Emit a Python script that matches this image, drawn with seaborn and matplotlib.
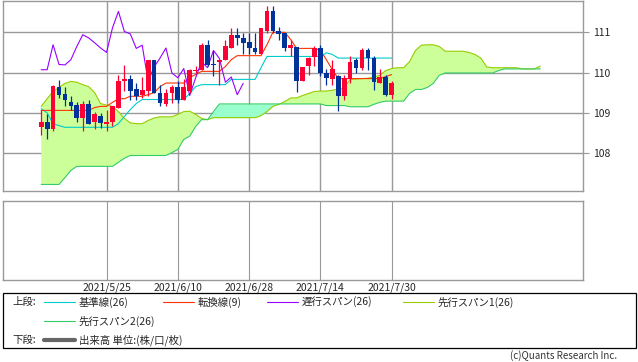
import matplotlib
matplotlib.use("Agg")
import matplotlib.pyplot as plt
import seaborn as sns
import numpy as np
from matplotlib.lines import Line2D
from matplotlib.patches import Rectangle

sns.set_style("white")
plt.rcParams['font.family'] = ['Noto Sans CJK JP', 'DejaVu Sans']
plt.rcParams['axes.unicode_minus'] = False

# 日足 (2021/5/10 〜 2021/7/30)
opens = [108.64, 108.78, 108.59, 109.65, 109.46, 109.28, 109.20, 108.86, 109.23, 108.78,
         108.93, 108.72, 108.77, 109.12, 109.78, 109.83, 109.58, 109.45, 109.53, 110.30,
         109.50, 109.23, 109.48, 109.63, 109.31, 109.53, 110.05, 110.06, 110.69, 110.21,
         110.26, 110.32, 110.61, 110.94, 110.86, 110.75, 110.61, 110.45, 111.02, 111.52,
         111.03, 110.99, 110.60, 110.64, 109.78, 110.16, 110.39, 110.61, 109.99, 109.84,
         109.91, 109.41, 109.84, 110.32, 110.12, 110.57, 110.35, 109.74, 109.89, 109.45]
highs = [109.06, 108.96, 109.68, 109.81, 109.65, 109.41, 109.28, 109.29, 109.31, 109.01,
         109.00, 109.08, 109.16, 109.93, 110.20, 109.95, 109.74, 109.89, 110.30, 110.30,
         109.70, 109.58, 109.70, 109.78, 109.83, 110.10, 110.16, 110.74, 110.82, 110.53,
         110.32, 110.82, 111.11, 111.11, 110.99, 110.99, 110.99, 111.11, 111.66, 111.66,
         111.14, 110.99, 110.82, 110.64, 110.14, 110.38, 110.65, 110.69, 110.10, 110.32,
         109.93, 109.95, 110.40, 110.36, 110.61, 110.60, 110.40, 110.09, 109.95, 109.80]
lows = [108.44, 108.34, 108.56, 109.38, 109.16, 109.06, 108.78, 108.56, 108.73, 108.59,
        108.62, 108.54, 108.68, 109.12, 109.53, 109.33, 109.33, 109.36, 109.41, 109.48,
        109.16, 109.18, 109.25, 109.25, 109.31, 109.50, 109.98, 110.06, 110.16, 109.91,
        109.70, 110.32, 110.61, 110.69, 110.45, 110.45, 110.45, 110.45, 110.99, 110.99,
        110.82, 110.53, 110.40, 109.51, 109.78, 109.95, 110.16, 109.91, 109.70, 109.70,
        109.04, 109.31, 109.74, 109.99, 110.07, 110.07, 109.56, 109.74, 109.43, 109.35]
closes = [108.78, 108.59, 109.66, 109.44, 109.33, 109.18, 108.86, 109.23, 108.73, 108.96,
          108.75, 108.78, 109.16, 109.80, 109.83, 109.53, 109.43, 109.56, 110.30, 109.48,
          109.25, 109.50, 109.63, 109.33, 109.65, 110.07, 110.07, 110.69, 110.20, 110.19,
          110.32, 110.65, 110.94, 110.86, 110.74, 110.61, 110.50, 111.11, 111.52, 111.02,
          110.96, 110.60, 110.68, 109.78, 110.14, 110.36, 110.61, 109.99, 109.87, 110.10,
          109.43, 109.87, 110.27, 110.12, 110.55, 110.35, 109.76, 109.89, 109.45, 109.73]

# 転換線(9)
tenkan = [109.06, 109.06, 109.06, 109.06, 109.06, 109.06, 109.06, 109.06, 109.06, 109.13,
          109.16, 109.16, 109.26, 109.35, 109.35, 109.41, 109.41, 109.41, 109.45, 109.50,
          109.65, 109.74, 109.74, 109.74, 109.74, 109.88, 109.95, 110.03, 110.03, 110.03,
          110.03, 110.15, 110.32, 110.42, 110.42, 110.42, 110.42, 110.42, 110.69, 111.00,
          111.00, 111.00, 110.82, 110.60, 110.60, 110.60, 110.60, 110.55, 110.32, 110.07,
          109.85, 109.85, 109.85, 109.85, 109.85, 109.85, 109.85, 109.85, 109.90, 109.95]
# 基準線(26)
kijun = [109.10, 109.00, 108.73, 108.68, 108.64, 108.64, 108.64, 108.64, 108.64, 108.64,
         108.64, 108.64, 108.64, 108.73, 108.91, 109.08, 109.23, 109.33, 109.33, 109.33,
         109.33, 109.33, 109.33, 109.33, 109.33, 109.48, 109.65, 109.70, 109.70, 109.70,
         109.70, 109.70, 109.83, 109.83, 109.83, 109.83, 109.83, 110.12, 110.40, 110.40,
         110.40, 110.40, 110.40, 110.40, 110.40, 110.40, 110.40, 110.40, 110.49, 110.45,
         110.36, 110.36, 110.36, 110.36, 110.36, 110.36, 110.36, 110.36, 110.36, 110.36]
# 先行スパン1(26)
span1 = [109.16, 109.35, 109.53, 109.63, 109.73, 109.78, 109.76, 109.70, 109.65, 109.50,
         109.23, 109.19, 109.16, 109.03, 108.86, 108.75, 108.73, 108.73, 108.81, 108.87,
         108.90, 108.90, 108.90, 108.96, 109.03, 109.04, 108.96, 108.86, 108.83, 108.88,
         108.88, 108.88, 108.88, 108.88, 108.88, 108.88, 108.88, 108.93, 109.03, 109.16,
         109.21, 109.28, 109.37, 109.37, 109.43, 109.48, 109.53, 109.54, 109.54, 109.56,
         109.59, 109.62, 109.83, 109.84, 109.85, 109.86, 109.89, 109.93, 110.05, 110.10,
         110.12, 110.12, 110.27, 110.55, 110.68, 110.69, 110.69, 110.65, 110.53, 110.53,
         110.53, 110.53, 110.50, 110.45, 110.36, 110.14, 110.12, 110.12, 110.12, 110.12,
         110.12, 110.09, 110.09, 110.09, 110.16]
# 先行スパン2(26)
span2 = [107.22, 107.22, 107.22, 107.22, 107.39, 107.57, 107.67, 107.67, 107.67, 107.67,
         107.67, 107.67, 107.67, 107.77, 107.87, 107.94, 107.94, 107.94, 107.94, 107.94,
         107.94, 107.94, 108.01, 108.09, 108.34, 108.42, 108.66, 108.83, 108.83, 109.03,
         109.22, 109.22, 109.22, 109.22, 109.22, 109.22, 109.22, 109.22, 109.22, 109.22,
         109.22, 109.22, 109.22, 109.22, 109.22, 109.22, 109.22, 109.22, 109.18, 109.18,
         109.18, 109.18, 109.15, 109.15, 109.15, 109.15, 109.21, 109.26, 109.29, 109.29,
         109.29, 109.29, 109.48, 109.58, 109.58, 109.63, 109.73, 109.93, 109.99, 109.99,
         109.99, 109.99, 109.99, 109.99, 109.99, 109.99, 109.99, 110.05, 110.09, 110.09,
         110.09, 110.09, 110.09, 110.09, 110.09]
# 遅行スパン(26): 終値を25本前に
chikou = closes[25:]

date_pos = [11, 23, 35, 47, 59]
date_labels = ['2021/5/25', '2021/6/10', '2021/6/28', '2021/7/14', '2021/7/30']
price_ticks = [108, 109, 110, 111]

W, H = 638, 362
fig = plt.figure(figsize=(W / 100, H / 100), dpi=100)
ax1 = fig.add_axes([3 / W, 1 - 190.5 / H, 580 / W, 190 / H])
ax2 = fig.add_axes([3 / W, 1 - 280 / H, 580 / W, 79 / H])

grid_c = '#999999'
lw = 0.8
x60 = np.arange(len(closes))
x85 = np.arange(len(span1))
s1 = np.array(span1)
s2 = np.array(span2)

# 雲
ax1.fill_between(x85, s1, s2, where=s1 >= s2, interpolate=True, color='#ccff99', lw=0, zorder=1)
ax1.fill_between(x85, s1, s2, where=s1 < s2, interpolate=True, color='#99ffcc', lw=0, zorder=1)
sns.lineplot(x=x85, y=s1, ax=ax1, color='#99cc00', lw=lw, zorder=2)
sns.lineplot(x=x85, y=s2, ax=ax1, color='#33cc66', lw=lw, zorder=2)
sns.lineplot(x=x60, y=kijun, ax=ax1, color='#00cccc', lw=lw, zorder=3)
sns.lineplot(x=x60, y=tenkan, ax=ax1, color='#ff3300', lw=lw, zorder=3)
sns.lineplot(x=np.arange(len(chikou)), y=chikou, ax=ax1, color='#9900ff', lw=lw, zorder=3)

# ローソク足
o = np.array(opens)
c = np.array(closes)
up = c >= o
cols = np.where(up, '#ff0033', '#003399')
ax1.vlines(x60, lows, highs, colors=cols, lw=0.9, zorder=4)
ax1.bar(x60, np.maximum(np.abs(c - o), 0.02), bottom=np.minimum(o, c), width=0.8,
        color=cols, lw=0, zorder=5)

ax1.set_xlim(-6.43, 91.2)
ax1.set_ylim(107.07, 111.79)
ax1.yaxis.tick_right()
ax1.set_yticks(price_ticks)
ax1.set_yticklabels([str(t) for t in price_ticks])
ax1.set_xticks(date_pos)
ax1.set_xticklabels([])
ax1.tick_params(axis='x', length=0)
ax1.tick_params(axis='y', length=4, color=grid_c, labelsize=7.5, pad=3)
ax1.grid(True, color=grid_c, lw=1.0)
ax1.set_axisbelow(True)
ax1.set_xlabel('')
ax1.set_ylabel('')

ax2.set_xlim(-6.43, 91.2)
ax2.set_ylim(0, 1)
ax2.set_xticks(date_pos)
ax2.set_xticklabels(date_labels)
ax2.set_yticks([])
ax2.tick_params(axis='x', length=0, labelsize=7.5, pad=2)
ax2.grid(True, axis='x', color=grid_c, lw=0.8)

for ax in (ax1, ax2):
    for sp in ax.spines.values():
        sp.set_color(grid_c)
        sp.set_linewidth(1.0)


def fx(x):
    return x / W


def fy(y):
    return 1 - y / H


# 凡例
fig.add_artist(Rectangle((fx(3), fy(348)), 633 / W, 55 / H, transform=fig.transFigure,
                         fill=False, edgecolor='black', lw=0.9))
fs = 7.5
fig.text(fx(12), fy(302), '上段:', fontsize=fs, va='center')
entries = [(44, 302, '#00cccc', '基準線(26)'),
           (163, 302, '#ff3300', '転換線(9)'),
           (267, 302, '#9900ff', '遅行スパン(26)'),
           (403, 302, '#99cc00', '先行スパン1(26)'),
           (44, 321, '#33cc66', '先行スパン2(26)')]
for x0, y0, col, lab in entries:
    fig.add_artist(Line2D([fx(x0), fx(x0 + 31)], [fy(y0), fy(y0)], transform=fig.transFigure,
                          color=col, lw=lw))
    fig.text(fx(x0 + 35), fy(y0), lab, fontsize=fs, va='center')
fig.text(fx(12), fy(340), '下段:', fontsize=fs, va='center')
fig.add_artist(Line2D([fx(44), fx(75)], [fy(340), fy(340)], transform=fig.transFigure,
                      color='#666666', lw=3))
fig.text(fx(79), fy(340), '出来高 単位:(株/口/枚)', fontsize=fs, va='center')

fig.text(fx(617), fy(356), '(c)Quants Research Inc.', fontsize=7, ha='right', va='center',
         color='#333333')

fig.savefig('out.png', dpi=100)
